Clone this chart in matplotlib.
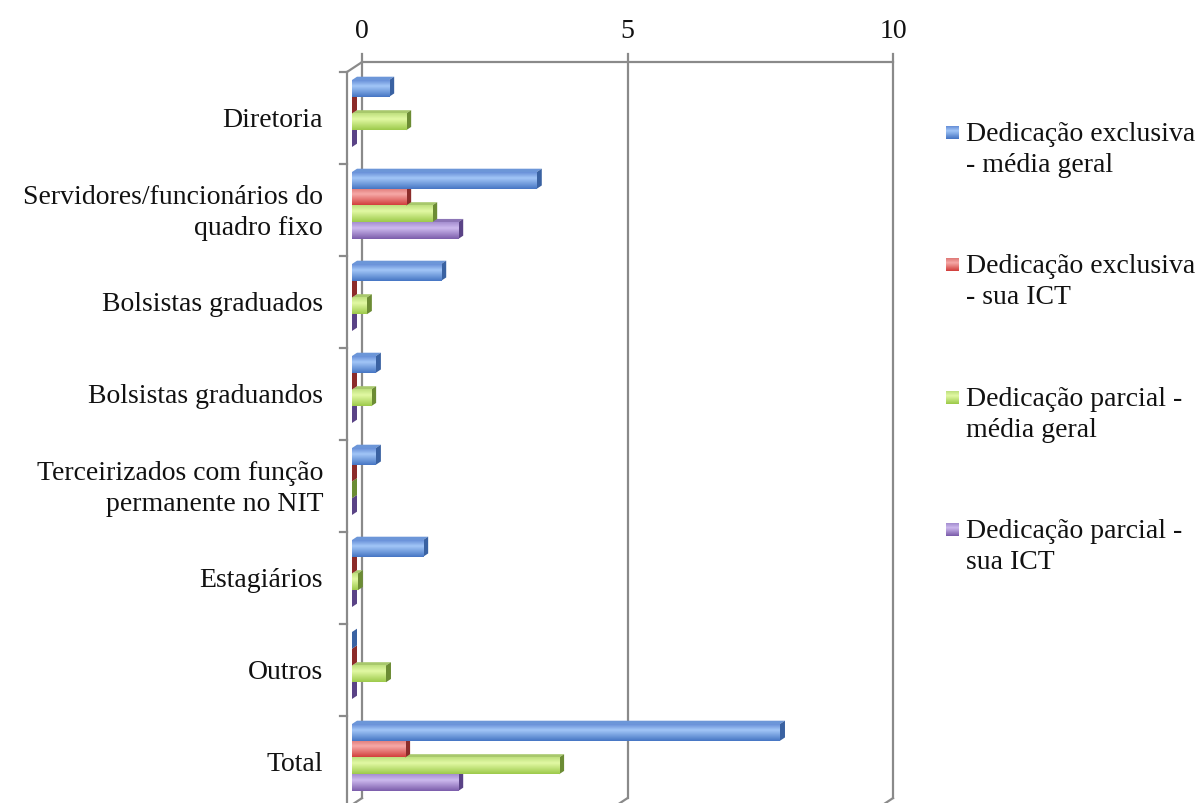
import numpy as np
import matplotlib
matplotlib.use("Agg")
import matplotlib.pyplot as plt
from matplotlib.colors import LinearSegmentedColormap
from matplotlib.patches import Polygon

plt.rcParams['font.family'] = ['Liberation Serif', 'DejaVu Serif']

categories = [
    "Diretoria",
    "Servidores/funcionários do\nquadro fixo",
    "Bolsistas graduados",
    "Bolsistas graduandos",
    "Terceirizados com função\npermanente no NIT",
    "Estagiários",
    "Outros",
    "Total",
]
series_names = [
    "Dedicação exclusiva\n- média geral",
    "Dedicação exclusiva\n- sua ICT",
    "Dedicação parcial -\nmédia geral",
    "Dedicação parcial -\nsua ICT",
]
excl_geral = [0.70, 3.48, 1.68, 0.45, 0.45, 1.34, 0.00, 8.06]
excl_ict = [0.00, 1.02, 0.00, 0.00, 0.00, 0.00, 0.00, 1.00]
parc_geral = [1.02, 1.51, 0.28, 0.36, 0.00, 0.11, 0.64, 3.90]
parc_ict = [0.00, 2.00, 0.00, 0.00, 0.00, 0.00, 0.00, 2.00]
series = [excl_geral, excl_ict, parc_geral, parc_ict]
x_ticks = [0, 5, 10]

# gradient stops for each series: (top edge, highlight, bottom), top face, side face
palettes = [
    (["#6890d8", "#a2c6f7", "#4676c4"], "#6c96d8", "#3a62a2"),
    (["#e07a78", "#f6a9a7", "#d2403d"], "#c65a57", "#8c2c2a"),
    (["#bfe07f", "#e2f9a4", "#9dca4b"], "#a8c86c", "#6c8c34"),
    (["#a58fd0", "#cdb9ee", "#7c5dab"], "#8c75b6", "#5a4386"),
]

W, H = 1196, 804
fig = plt.figure(figsize=(W / 100, H / 100), dpi=100)
ax = fig.add_axes([0, 0, 1, 1])
ax.set_axis_off()

# pixel-scale mapping of the data space
PX_X = 53.1      # pixels per value unit
PX_Y = 92.0      # pixels per category
X0_PX, Y0_PX = 352, 73
DX = 5 / PX_X    # bar depth, horizontal
DY = 3.3 / PX_Y  # bar depth, vertical (upwards)

bar_h = 0.182
group_off = 0.087
line_c = "#8a8a8a"
lw = 1.6
txt_c = "#111111"
fs = 20
ls = 1.32
n_cat = len(categories)

# walls and gridlines
back_dx, back_dy = 2 * DX, -3 * DY
front_dx = -DX
ax.plot([front_dx, front_dx], [0, n_cat], color=line_c, lw=lw, zorder=1)
for k in range(n_cat + 1):
    ax.plot([front_dx - 7 / PX_X, front_dx], [k, k], color=line_c, lw=lw, zorder=1)
ax.plot([front_dx, back_dx], [0, back_dy], color=line_c, lw=lw, zorder=1)
ax.plot([back_dx, x_ticks[-1] + back_dx], [back_dy, back_dy], color=line_c, lw=lw, zorder=1)
for v in x_ticks:
    ax.plot([v + back_dx, v + back_dx], [back_dy - 8 / PX_Y, n_cat + back_dy],
            color=line_c, lw=lw, zorder=1)
    ax.plot([v + back_dx, v + front_dx], [n_cat + back_dy, n_cat], color=line_c, lw=lw, zorder=1)
    ax.text(v + back_dx, (32 - Y0_PX) / PX_Y, str(v), ha="center", va="center",
            fontsize=fs, color=txt_c)

grad = np.linspace(0, 1, 64).reshape(-1, 1)
cmaps = [LinearSegmentedColormap.from_list(f"s{j}", [(0, p[0][0]), (0.35, p[0][1]), (1, p[0][2])])
         for j, p in enumerate(palettes)]

z = 2
for i in range(n_cat):
    # bottom bar first so upper bars cover the lower top faces
    for j in reversed(range(len(series))):
        v = series[j][i]
        y0 = i + group_off + j * bar_h
        y1 = y0 + bar_h
        _, top_c, side_c = palettes[j]
        top = Polygon([(0, y0), (v, y0), (v + DX, y0 - DY), (DX, y0 - DY)],
                      closed=True, facecolor=top_c, edgecolor="none", zorder=z)
        ax.add_patch(top)
        side = Polygon([(v, y0), (v + DX, y0 - DY), (v + DX, y1 - DY), (v, y1)],
                       closed=True, facecolor=side_c, edgecolor="none", zorder=z)
        ax.add_patch(side)
        if v > 0:
            ax.imshow(grad, cmap=cmaps[j], extent=[0, v, y1, y0], aspect="auto",
                      interpolation="bilinear", zorder=z + 0.5)
        z += 1

for i, lab in enumerate(categories):
    ax.text((323 - X0_PX) / PX_X, i + 0.52, lab, ha="right", va="center",
            multialignment="right", fontsize=fs, color=txt_c, linespacing=ls)

# legend: gradient squares with two-line labels
leg_step = 132.3 / PX_Y
sq_grad = np.linspace(0, 1, 16).reshape(-1, 1)
for j, name in enumerate(series_names):
    yc = (150 - Y0_PX) / PX_Y + j * leg_step
    sq_top = (127 - Y0_PX) / PX_Y + j * leg_step
    x_sq = (946 - X0_PX) / PX_X
    ax.imshow(sq_grad, cmap=cmaps[j], extent=[x_sq, x_sq + 13 / PX_X, sq_top + 13 / PX_Y, sq_top],
              aspect="auto", interpolation="bilinear", zorder=50)
    ax.text((966 - X0_PX) / PX_X, yc, name, ha="left", va="center", fontsize=fs,
            color=txt_c, linespacing=ls)

ax.set_xlim(-X0_PX / PX_X, (W - X0_PX) / PX_X)
ax.set_ylim((H - Y0_PX) / PX_Y, -Y0_PX / PX_Y)

fig.savefig("out.png", dpi=100, facecolor="white")
